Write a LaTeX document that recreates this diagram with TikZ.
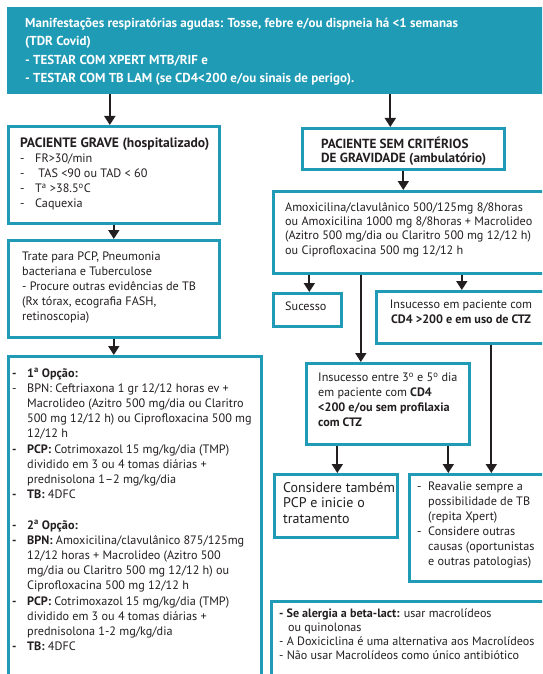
\documentclass[tikz,border=0pt]{standalone}
\usepackage{fontspec}
\setmainfont{PT Sans}
\usetikzlibrary{arrows.meta,calc}
\definecolor{tealc}{RGB}{31,155,181}
\definecolor{ink}{RGB}{35,31,32}
% bullet helpers: dash in a fixed-width slot, and matching indent for continuation lines
\newcommand\dsh[1]{\makebox[15pt][l]{#1}}
\newcommand\ind{\hspace*{15pt}}
\newcommand\rdsh{\makebox[11pt][l]{-}}
\newcommand\rind{\hspace*{11pt}}
\newcommand\ordsup[1]{\textsuperscript{#1}}
\tikzset{
  box/.style={draw=tealc, line width=2.6pt, fill=white, anchor=north west, inner sep=0pt},
  txt/.style={anchor=north west, inner sep=0pt, align=left, text=ink,
              font=\fontsize{12.2}{15}\selectfont},
  arr/.style={draw=ink, line width=1.8pt, -{Triangle[width=11pt,length=9pt]}},
}
\begin{document}
\begin{tikzpicture}[x=1pt,y=-1pt]
\useasboundingbox (0,0) rectangle (542,674);
\clip (0,0) rectangle (542,674);

% header banner
\node[fill=tealc, anchor=north west, inner sep=0pt, minimum width=545pt, minimum height=87pt] (banner) at (7,7) {};
\node[txt, text=white, font=\bfseries\fontsize{13}{18.3}\selectfont] (bannertxt) at (25,18)
  {Manifestações respiratórias agudas: Tosse, febre e/ou dispneia há <1 semanas\\
   (TDR Covid)\\
   - TESTAR COM XPERT MTB/RIF e\\
   - TESTAR COM TB LAM (se CD4<200 e/ou sinais de perigo).};

% left column
\node[box, minimum width=211pt, minimum height=97pt] (grave) at (7,125) {};
\node[txt] (gravetxt) at (20,138)
  {{\fontsize{13.6}{15}\selectfont\bfseries PACIENTE GRAVE (hospitalizado)}\\
   \dsh{-}FR>30/min\\
   \dsh{-} TAS <90 ou TAD < 60\\
   \dsh{-}T\ordsup{a} >38.5\ordsup{o}C\\
   \dsh{-}Caquexia};

\node[box, minimum width=211pt, minimum height=97pt] (trate) at (7,239) {};
\node[txt] (tratetxt) at (22,252)
  {Trate para PCP, Pneumonia\\
   bacteriana e Tuberculose\\
   - Procure outras evidências de TB\\
   (Rx tórax, ecografia FASH,\\
   retinoscopia)};

\node[box, minimum width=253pt, minimum height=330pt] (opcoes) at (7,355) {};
\node[txt, font=\fontsize{12.2}{15.2}\selectfont] (opcoestxt) at (12,368)
  {\dsh{\textbf{-}}\textbf{1\ordsup{a} Opção:}\\
   \dsh{-}BPN: Ceftriaxona 1 gr 12/12 horas ev +\\
   \ind Macrolideo (Azitro 500 mg/dia ou Claritro\\
   \ind 500 mg 12/12 h) ou Ciprofloxacina 500 mg\\
   \ind 12/12 h\\
   \dsh{\textbf{-}}\textbf{PCP:} Cotrimoxazol 15 mg/kg/dia (TMP)\\
   \ind dividido em 3 ou 4 tomas diárias +\\
   \ind prednisolona 1–2 mg/kg/dia\\
   \dsh{\textbf{-}}\textbf{TB:} 4DFC\\
   \mbox{}\\
   \dsh{\textbf{-}}\textbf{2\ordsup{a} Opção:}\\
   \dsh{\textbf{-}}\textbf{BPN:} Amoxicilina/clavulânico 875/125mg\\
   \ind 12/12 horas + Macrolideo (Azitro 500\\
   \ind mg/dia ou Claritro 500 mg 12/12 h) ou\\
   \ind Ciprofloxacina 500 mg 12/12 h\\
   \dsh{\textbf{-}}\textbf{PCP:} Cotrimoxazol 15 mg/kg/dia (TMP)\\
   \ind dividido em 3 ou 4 tomas diárias +\\
   \ind prednisolona 1-2 mg/kg/dia\\
   \dsh{\textbf{-}}\textbf{TB:} 4DFC};

% right column
\node[box, minimum width=202pt, minimum height=41pt] (semcrit) at (301,127) {};
\node[txt, font=\bfseries\fontsize{13.2}{13.5}\selectfont] (semcrittxt) at (321,137)
  {PACIENTE SEM CRITÉRIOS\\
   DE GRAVIDADE (ambulatório)};

\node[box, minimum width=276pt, minimum height=82pt] (amox) at (272,190) {};
\node[txt, font=\fontsize{12.2}{14.3}\selectfont] (amoxtxt) at (285,202)
  {Amoxicilina/clavulânico 500/125mg 8/8horas\\
   ou Amoxicilina 1000 mg 8/8horas + Macrolideo\\
   (Azitro 500 mg/dia ou Claritro 500 mg 12/12 h)\\
   ou Ciprofloxacina 500 mg 12/12 h};

\node[box, minimum width=68pt, minimum height=33pt] (sucesso) at (272,292) {};
\node[txt] (sucessotxt) at (285,302) {Sucesso};

\node[box, minimum width=173pt, minimum height=52pt] (ins200) at (375,290) {};
\node[txt, anchor=north, align=center] (ins200txt) at (461,300)
  {Insucesso em paciente com\\
   \textbf{CD4 >200 e em uso de CTZ}};

\node[box, minimum width=163pt, minimum height=81pt] (insentre) at (305,362) {};
\node[txt] (insentretxt) at (318,373)
  {Insucesso entre 3\ordsup{o} e 5\ordsup{o} dia\\
   em paciente com \textbf{CD4}\\
   \textbf{<200 e/ou sem profilaxia}\\
   \textbf{com CTZ}};

\node[box, minimum width=123pt, minimum height=63pt] (considere) at (273,473) {};
\node[txt, font=\fontsize{14}{15.5}\selectfont] (consideretxt) at (283,482)
  {Considere também\\
   PCP e inicie o\\
   tratamento};

\node[box, minimum width=140pt, minimum height=107pt] (reavalie) at (408,473) {};
\node[txt] (reavalietxt) at (417,482)
  {\rdsh Reavalie sempre a\\
   \rind possibilidade de TB\\
   \rind (repita Xpert)\\
   \rdsh Considere outras\\
   \rind causas (oportunistas\\
   \rind e outras patologias)};

\node[box, minimum width=278pt, minimum height=90pt] (alergia) at (270,600) {};
\node[txt, font=\fontsize{12.1}{13.7}\selectfont] (alergiatxt) at (279,609)
  {\textbf{- Se alergia a beta-lact:} usar macrolídeos\\
   \hspace*{9pt}ou quinolonas\\
   - A Doxiciclina é uma alternativa aos Macrolídeos\\
   - Não usar Macrolídeos como único antibiótico};

% connectors
\coordinate (c1) at ($(grave.north)+(-4,0)$);
\coordinate (c2) at ($(semcrit.north)+(-13,0)$);
\coordinate (c3) at ($(sucesso.north)+(2,0)$);
\coordinate (c4) at ($(insentre.north)+(-27,0)$);
\coordinate (c5) at ($(ins200.north)+(-1,0)$);
\coordinate (c6) at ($(reavalie.north)+(12,0)$);
\coordinate (c7) at ($(considere.north)+(1.5,0)$);
\coordinate (c8) at ($(reavalie.north)+(-31,0)$);
\draw[arr] (banner.south -| c1) -- (c1);
\draw[arr] (banner.south -| c2) -- (c2);
\draw[arr] (grave.south) -- (trate.north);
\draw[arr] (trate.south) -- (opcoes.north -| trate.south);
\draw[arr] (semcrit.south) -- (amox.north -| semcrit.south);
\draw[arr] (amox.south -| c3) -- (c3);
\draw[arr] (amox.south -| c4) -- (c4);
\draw[arr] (amox.south -| c5) -- (c5);
\draw[arr] (ins200.south -| c6) -- (c6);
\draw[arr] (insentre.south -| c7) -- (c7);
\draw[arr] (insentre.south -| c8) -- (c8);
\end{tikzpicture}
\end{document}
